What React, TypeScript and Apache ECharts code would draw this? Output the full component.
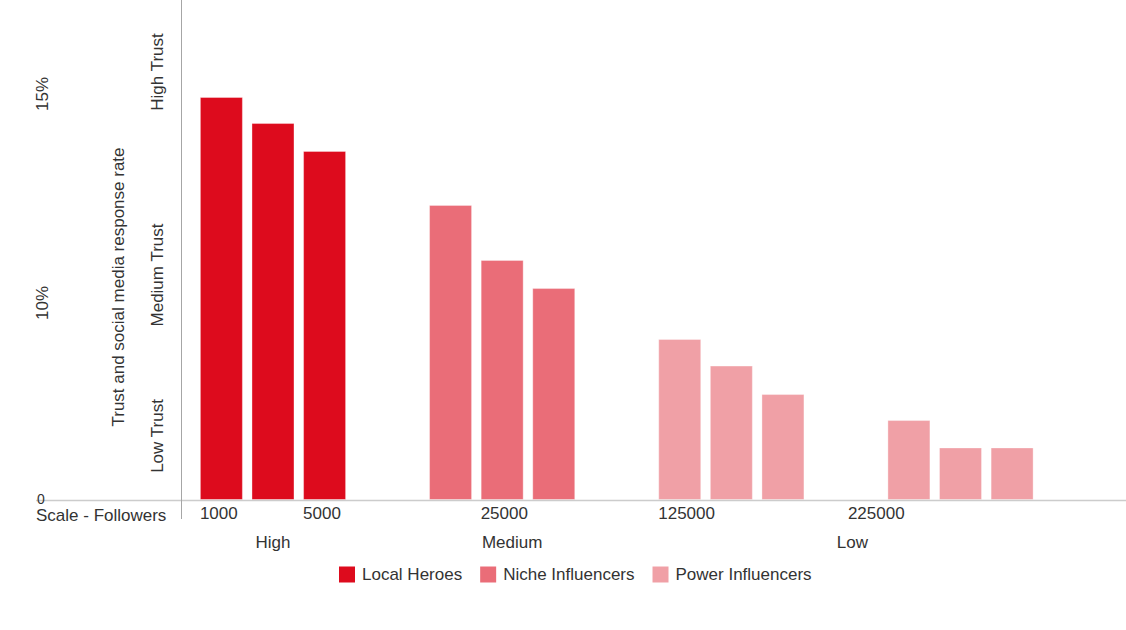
import React, { useEffect, useRef } from "react";
import * as echarts from "echarts";

// ---- data ----
const groupLabels = ["High", "Medium", "Low", "Low"];
const segments = ["Local Heroes", "Niche Influencers", "Power Influencers"];
const groupSegment = [0, 1, 2, 2];
const bar1Values = [14.87, 10.89, 5.94, 2.95];
const bar2Values = [13.91, 8.86, 4.96, 1.94];
const bar3Values = [12.88, 7.82, 3.91, 1.94];
const bar1Ticks = ["1000", "", "125000", "225000"];
const bar2Ticks = ["", "25000", "", ""];
const bar3Ticks = ["5000", "", "", ""];
const yTickLabels = ["0", "10%", "15%"];
const trustLabels = ["Low Trust", "Medium Trust", "High Trust"];
const yAxisTitle = "Trust and social media response rate";
const xAxisTitle = "Scale - Followers";

const segmentColors = ["#DD0B1D", "#EA6D78", "#F0A0A6"];
const FONT = "'Liberation Sans', Arial, sans-serif";
const TEXT = "#333333";

export default function App() {
  const ref = useRef<HTMLDivElement>(null);
  useEffect(() => {
    if (!ref.current) return;
    const chart = echarts.init(ref.current, null, { renderer: "svg" });
    const positions = [
      { values: bar1Values, ticks: bar1Ticks },
      { values: bar2Values, ticks: bar2Ticks },
      { values: bar3Values, ticks: bar3Ticks },
    ];
    const barSeries = positions.map((p, pi) => ({
      type: "bar",
      name: "pos" + pi,
      barWidth: 43,
      barGap: "20%",
      data: p.values.map((v, gi) => {
        const tick = p.ticks[gi];
        const isShifted = tick === "225000";
        return {
          value: v,
          itemStyle: {
            color: segmentColors[groupSegment[gi]],
            borderColor: "rgba(255,255,255,0.35)",
            borderWidth: 1,
          },
          label: {
            show: tick !== "",
            formatter: tick,
            position: "bottom",
            distance: 5,
            align: "left",
            offset: isShifted ? [-61, 0] : [-21.5, 0],
            fontSize: 17,
            fontFamily: FONT,
            color: TEXT,
          },
        };
      }),
    }));
    const legendSeries = segments.map((s, i) => ({
      type: "line",
      name: s,
      data: [],
      itemStyle: { color: segmentColors[i] },
      lineStyle: { color: segmentColors[i] },
    }));

    const groupShift = [
      {},
      { padding: [0, 0, 0, 20] },
      { padding: [0, 0, 0, 242] },
      {},
    ];

    const rotText = (text: string, x: number, y: number) => ({
      type: "text",
      x,
      y,
      rotation: Math.PI / 2,
      style: {
        text,
        fill: TEXT,
        fontSize: 17,
        fontFamily: FONT,
        align: "center",
        verticalAlign: "middle",
      },
    });

    chart.setOption({
      animation: false,
      grid: { left: 158.4, right: 50.9, top: 0, bottom: 130, containLabel: false },
      xAxis: {
        type: "category",
        data: groupLabels,
        axisLine: { show: false },
        axisTick: { show: false },
        axisLabel: {
          interval: 0,
          margin: 34,
          fontSize: 17,
          fontFamily: FONT,
          color: TEXT,
          formatter: (v: string, i: number) => (i === 3 ? "" : `{g${i}|${v}}`),
          rich: {
            g0: { fontSize: 17, fontFamily: FONT, color: TEXT },
            g1: { fontSize: 17, fontFamily: FONT, color: TEXT, ...groupShift[1] },
            g2: { fontSize: 17, fontFamily: FONT, color: TEXT, ...groupShift[2] },
          },
        },
      },
      yAxis: {
        type: "value",
        min: 0,
        max: 18.45,
        show: false,
      },
      legend: {
        data: segments,
        left: 334,
        top: 561,
        icon: "rect",
        itemWidth: 16,
        itemHeight: 16,
        itemGap: 18,
        selectedMode: false,
        textStyle: { fontSize: 17, fontFamily: FONT, color: TEXT, padding: [0, 0, 0, 2] },
      },
      series: [...barSeries, ...legendSeries],
      graphic: [
        {
          type: "line",
          shape: { x1: 36, y1: 500.5, x2: 1126, y2: 500.5 },
          style: { stroke: "#cccccc", lineWidth: 1.5 },
          z: 10,
        },
        {
          type: "line",
          shape: { x1: 181.5, y1: 0, x2: 181.5, y2: 519 },
          style: { stroke: "#a6a6a6", lineWidth: 1 },
          z: 10,
        },
        {
          type: "text",
          x: 41,
          y: 499,
          style: {
            text: yTickLabels[0],
            fill: TEXT,
            fontSize: 14,
            fontFamily: FONT,
            align: "center",
            verticalAlign: "middle",
          },
          z: 11,
        },
        rotText(yTickLabels[1], 42, 303),
        rotText(yTickLabels[2], 42, 94),
        rotText(yAxisTitle, 118, 287),
        rotText(trustLabels[0], 157, 436),
        rotText(trustLabels[1], 157, 275),
        rotText(trustLabels[2], 157, 72),
        {
          type: "text",
          x: 36,
          y: 515,
          style: {
            text: xAxisTitle,
            fill: TEXT,
            fontSize: 17,
            fontFamily: FONT,
            align: "left",
            verticalAlign: "middle",
          },
          z: 11,
        },
      ],
    });
    return () => chart.dispose();
  }, []);
  return (
    <div
      ref={ref}
      style={{ position: "absolute", left: 0, top: 0, width: 1126, height: 630, background: "#fff" }}
    />
  );
}
